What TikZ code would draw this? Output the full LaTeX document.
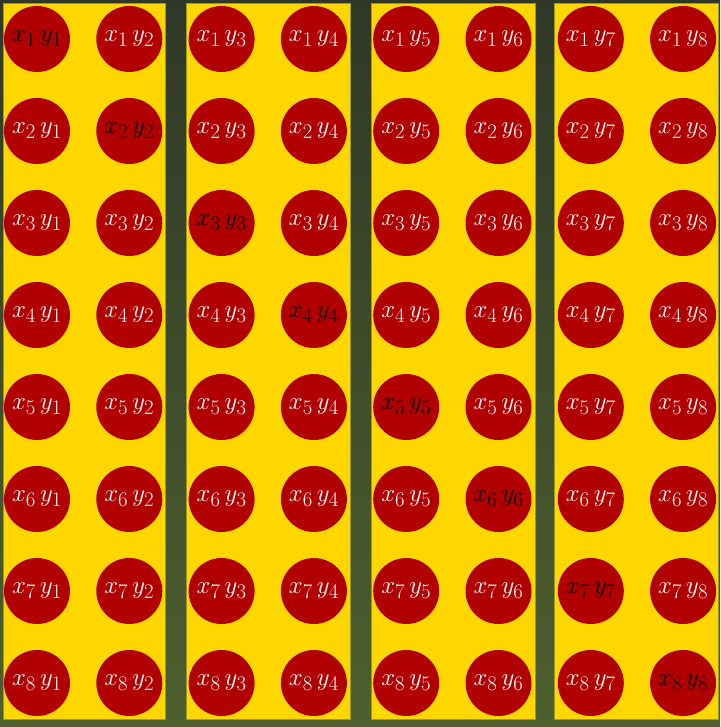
\documentclass[tikz,border=0pt]{standalone}
\definecolor{bgtop}{HTML}{2F3827}
\definecolor{bgbot}{HTML}{4D602E}
\definecolor{gold}{HTML}{FFD700}
\definecolor{goldedge}{HTML}{9A9A20}
\definecolor{dotred}{HTML}{B00000}
\tikzset{
  x=1pt, y=1pt,
  panel/.style={fill=gold, draw=goldedge, line width=1pt, inner sep=0pt, minimum height=715pt, anchor=north west},
  dot/.style={circle, fill=dotred, minimum size=66pt, inner sep=0pt, font=\fontsize{30}{30}\selectfont},
  lightdot/.style={dot, text=white},
  darkdot/.style={dot, text=black}
}
\begin{document}
\begin{tikzpicture}
\shade[top color=bgtop, bottom color=bgbot] (0,0) rectangle (720,-727);
\useasboundingbox (0,0) rectangle (720,-727);
\node[panel, minimum width=162pt] (p1) at (2.5,-3.5) {};
\node[panel, minimum width=164pt] (p2) at (185.5,-3.5) {};
\node[panel, minimum width=164pt] (p3) at (370.5,-3.5) {};
\node[panel, minimum width=164pt] (p4) at (553.5,-3.5) {};
\foreach \i in {1,...,8}{
  \foreach \j in {1,...,8}{
    \pgfmathsetmacro{\cx}{37+(\j-1)*92.3}
    \pgfmathsetmacro{\cy}{-39-(\i-1)*92}
    \ifnum\i=\j
      \node[darkdot] (c\i\j) at (\cx,\cy) {$x_{\i}\,y_{\i}$};
    \else
      \node[lightdot] (c\i\j) at (\cx,\cy) {$x_{\i}\,y_{\j}$};
    \fi
  }
}
\end{tikzpicture}
\end{document}
